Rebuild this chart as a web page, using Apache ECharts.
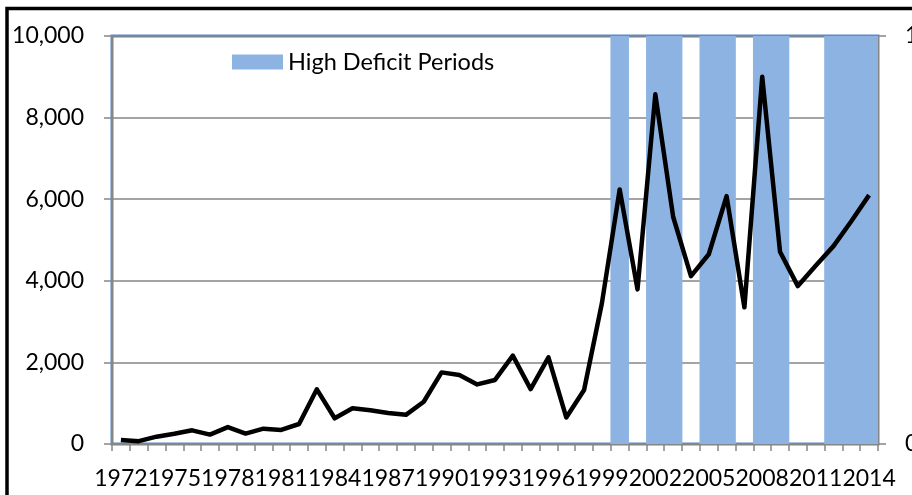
<!DOCTYPE html>
<html>
<head>
<meta charset="utf-8">
<script src="https://cdn.jsdelivr.net/npm/echarts@6/dist/echarts.min.js"></script>
<style>
  html, body { margin: 0; padding: 0; background: #fff; }
  #chart { width: 912px; height: 495px; }
</style>
</head>
<body>
<div id="chart"></div>
<script>
// years on the category axis
const years = [];
for (let y = 1972; y <= 2014; y++) years.push(String(y));

// black line, left axis
const deficit = [
  100, 70, 180, 250, 335, 230, 415, 255, 375, 345,
  490, 1340, 630, 875, 825, 760, 715, 1035, 1755, 1690,
  1460, 1570, 2165, 1345, 2125, 650, 1325, 3450, 6240, 3790,
  8570, 5570, 4115, 4650, 6075, 3350, 9000, 4710, 3870, 4370,
  4850, 5460, 6100
];

// blue columns, right axis (1 = high deficit year)
const highDeficit = [
  0, 0, 0, 0, 0, 0, 0, 0, 0, 0,
  0, 0, 0, 0, 0, 0, 0, 0, 0, 0,
  0, 0, 0, 0, 0, 0, 0, 0, 1, 0,
  1, 1, 0, 1, 1, 0, 1, 1, 0, 0,
  1, 1, 1
];

const font = "Lato";
const gray = "#868686";
const blue = "#8DB3E2";

const chart = echarts.init(document.getElementById("chart"));

chart.setOption({
  backgroundColor: "#fff",
  animation: false,
  textStyle: { fontFamily: font },
  graphic: [{
    type: "rect",
    shape: { x: 7, y: 8.5, width: 1000, height: 1000 },
    style: { fill: null, stroke: "#000", lineWidth: 3.5 },
    silent: true
  }],
  legend: {
    left: 232,
    top: 50,
    padding: 0,
    itemWidth: 51,
    itemHeight: 15,
    itemGap: 10,
    icon: "rect",
    data: ["High Deficit Periods"],
    textStyle: { fontFamily: font, fontSize: 23.5, color: "#000" }
  },
  grid: {
    left: 112,
    right: 34,
    top: 36,
    bottom: 51,
    show: true,
    backgroundColor: "#fff",
    borderColor: "#5A87C4",
    borderWidth: 3,
    containLabel: false,
    outerBoundsMode: "none"
  },
  xAxis: {
    type: "category",
    data: years,
    boundaryGap: true,
    axisLine: { show: true, lineStyle: { color: gray, width: 2 } },
    axisTick: { show: true, interval: 0, length: 7, lineStyle: { color: gray, width: 1.5 } },
    axisLabel: {
      interval: 2,
      margin: 23,
      showMinLabel: true,
      showMaxLabel: true,
      hideOverlap: false,
      fontFamily: font,
      fontSize: 23,
      color: "#000"
    },
    splitLine: { show: false }
  },
  yAxis: [{
    type: "value",
    min: 0,
    max: 10000,
    interval: 2000,
    axisLine: { show: true, onZero: false, lineStyle: { color: gray, width: 2 } },
    axisTick: { show: true, length: 8, lineStyle: { color: gray, width: 1.5 } },
    axisLabel: {
      margin: 28,
      fontFamily: font,
      fontSize: 23,
      color: "#000",
      formatter: v => v.toLocaleString("en-US")
    },
    splitLine: { show: true, lineStyle: { color: gray, width: 1.5 } }
  }, {
    type: "value",
    min: 0,
    max: 1,
    interval: 1,
    position: "right",
    axisLine: { show: true, onZero: false, lineStyle: { color: gray, width: 2 } },
    axisTick: { show: true, length: 8, lineStyle: { color: gray, width: 1.5 } },
    axisLabel: {
      margin: 27,
      fontFamily: font,
      fontSize: 23,
      color: "#000"
    },
    splitLine: { show: false }
  }],
  series: [{
    name: "High Deficit Periods",
    type: "bar",
    yAxisIndex: 1,
    data: highDeficit,
    barWidth: "104%",
    itemStyle: { color: blue },
    z: 2
  }, {
    name: "Deficit",
    type: "line",
    yAxisIndex: 0,
    data: deficit,
    showSymbol: false,
    symbol: "none",
    lineStyle: { color: "#000", width: 4.5, join: "round" },
    z: 3
  }]
});
</script>
</body>
</html>
